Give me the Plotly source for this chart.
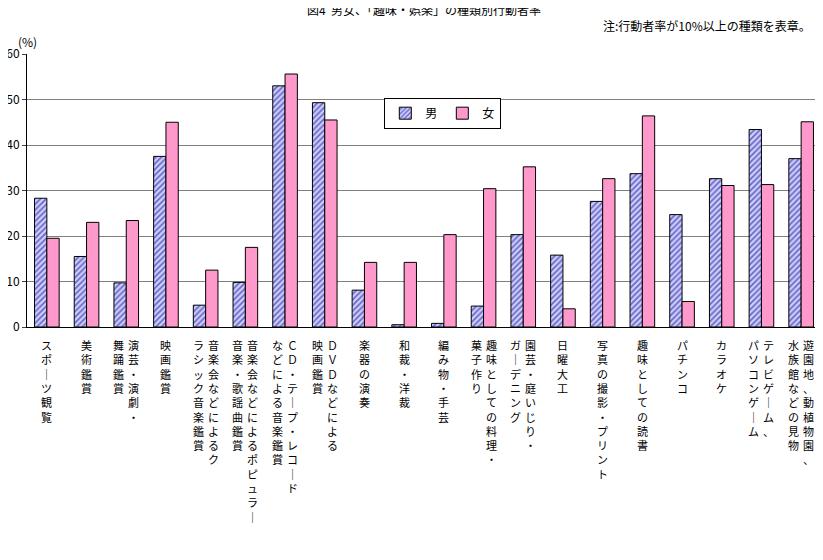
import plotly.graph_objects as go

categories = ["スポーツ観覧","美術鑑賞","演芸・演劇・舞踊鑑賞","映画鑑賞",
 "音楽会などによるクラシック音楽鑑賞","音楽会などによるポピュラー音楽・歌謡曲鑑賞",
 "CD・テープ・レコードなどによる音楽鑑賞","DVDなどによる映画鑑賞","楽器の演奏","和裁・洋裁",
 "編み物・手芸","趣味としての料理・菓子作り","園芸・庭いじり・ガーデニング","日曜大工",
 "写真の撮影・プリント","趣味としての読書","パチンコ","カラオケ",
 "テレビゲーム、パソコンゲーム","遊園地、動植物園、水族館などの見物"]
label_columns = [["スポ｜ツ観覧"],["美術鑑賞"],["演芸・演劇・","舞踊鑑賞"],["映画鑑賞"],
 ["音楽会などによるク","ラシック音楽鑑賞"],["音楽会などによるポピュラ｜","音楽・歌謡曲鑑賞"],
 ["ＣＤ・テ｜プ・レコ｜ド","などによる音楽鑑賞"],["ＤＶＤなどによる","映画鑑賞"],["楽器の演奏"],["和裁・洋裁"],
 ["編み物・手芸"],["趣味としての料理・","菓子作り"],["園芸・庭いじり・","ガ｜デニング"],["日曜大工"],
 ["写真の撮影・プリント"],["趣味としての読書"],["パチンコ"],["カラオケ"],
 ["テレビゲ｜ム、","パソコンゲ｜ム"],["遊園地、動植物園、","水族館などの見物"]]
male = [28.3,15.5,9.7,37.5,4.8,9.8,53.0,49.3,8.1,0.5,0.8,4.6,20.3,15.8,27.6,33.7,24.7,32.6,43.4,37.0]
female = [19.5,23.0,23.4,45.0,12.5,17.5,55.6,45.5,14.2,14.2,20.3,30.4,35.2,4.0,32.6,46.4,5.6,31.1,31.3,45.1]

x = list(range(len(categories)))
fig = go.Figure()
fig.add_bar(x=x, y=male, name="男",
    marker=dict(color="#FFFFFF", line=dict(color="black", width=1),
                pattern=dict(shape="/", fgcolor="#000080", bgcolor="#CCCCFF", size=4, solidity=0.4)))
fig.add_bar(x=x, y=female, name="女",
    marker=dict(color="#FF99CC", line=dict(color="black", width=1)))

H = 273.0  # plot height in px
for i, cols in enumerate(label_columns):
    n = len(cols)
    for j, col in enumerate(cols):
        shift = ((n - 1) / 2 - j) * 15
        fig.add_annotation(x=i, y=-8 / H, xref="x", yref="paper", yanchor="top", xanchor="center",
                           xshift=shift, showarrow=False, align="center",
                           text="<br>".join(list(col)), font=dict(size=11, color="black"))
fig.add_annotation(x=0.5, y=1 + 44 / H, xref="paper", yref="paper", xanchor="center", yanchor="middle",
                   showarrow=False, text="図4  男女、「趣味・娯楽」の種類別行動者率", font=dict(size=12))
fig.add_annotation(x=0.99, y=1 + 28 / H, xref="paper", yref="paper", xanchor="right", yanchor="middle",
                   showarrow=False, text="注:行動者率が10%以上の種類を表章。", font=dict(size=12))
fig.add_annotation(x=0, y=1 + 12 / H, xref="paper", yref="paper", xanchor="center", yanchor="middle",
                   showarrow=False, text="(%)", font=dict(size=12))

fig.update_layout(
    width=815, height=552, margin=dict(l=19, r=2, t=46, b=233, autoexpand=False),
    paper_bgcolor="white", plot_bgcolor="white",
    font=dict(family="Noto Sans CJK JP", color="black"),
    barmode="group", bargap=0.38, bargroupgap=0,
    legend=dict(x=0.45, y=0.84, xanchor="left", yanchor="top", orientation="h",
                bordercolor="black", borderwidth=1, font=dict(size=12)),
    xaxis=dict(showticklabels=False, range=[-0.5, 19.5], showline=True, linecolor="black", ticks=""),
    yaxis=dict(range=[0, 60], dtick=10, gridcolor="#808080", showline=True, linecolor="black",
               ticks="outside", ticklen=4, tickfont=dict(size=12), zeroline=False),
)
fig.write_html("out.html")
